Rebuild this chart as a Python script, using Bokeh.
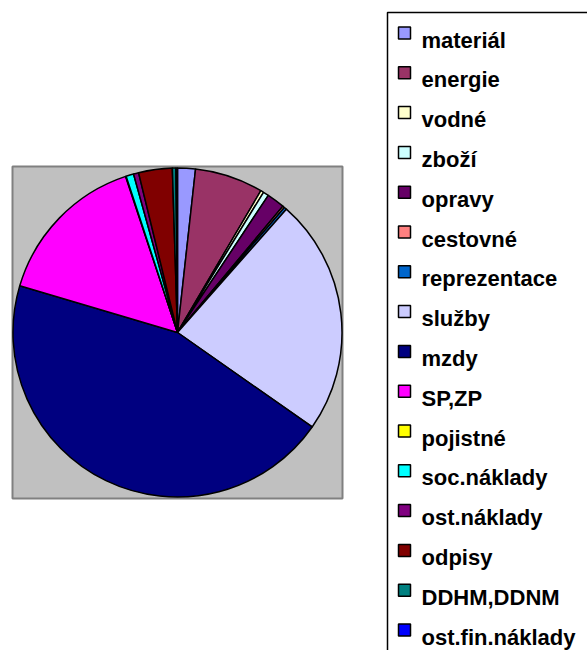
import numpy as np
from bokeh.plotting import figure
from bokeh.models import Range1d, ColumnDataSource
from bokeh.core.properties import value
from bokeh.embed import file_html
from bokeh.resources import INLINE

# ---- data ----
categories = ["materiál", "energie", "vodné", "zboží", "opravy", "cestovné",
              "reprezentace", "služby", "mzdy", "SP,ZP", "pojistné",
              "soc.náklady", "ost.náklady", "odpisy", "DDHM,DDNM",
              "ost.fin.náklady"]
shares = [1.75, 6.7, 0.3, 0.55, 1.75, 0.2, 0.25, 23.2, 44.8, 15.3, 0.05,
          0.75, 0.5, 3.3, 0.35, 0.15]
colors = ["#9999FF", "#993366", "#FFFFCC", "#CCFFFF", "#660066", "#FF8080",
          "#0066CC", "#CCCCFF", "#000080", "#FF00FF", "#FFFF00", "#00FFFF",
          "#800080", "#800000", "#008080", "#0000FF"]

W, H = 587, 650

def fx(px):
    return px

def fy(py):
    return H - py

p = figure(width=W, height=H, x_range=Range1d(0, W), y_range=Range1d(0, H),
           output_backend="svg", toolbar_location=None, min_border=0)
p.axis.visible = False
p.grid.visible = False
p.outline_line_color = None
p.background_fill_color = "white"
p.border_fill_color = "white"

# plot area (gray)
bx0, bx1, by0, by1 = 12, 342, 166, 498
p.quad(left=fx(bx0), right=fx(bx1), top=fy(by0), bottom=fy(by1),
       fill_color="#C0C0C0", line_color="#808080", line_width=2)

# pie
vals = np.array(shares, dtype=float)
frac = vals / vals.sum()
cum = np.concatenate([[0.0], np.cumsum(frac)])
start = np.pi / 2 - 2 * np.pi * cum[:-1]
end = np.pi / 2 - 2 * np.pi * cum[1:]
cx, cy, r = fx(177), fy(332), 164.5
src = ColumnDataSource(dict(start=start, end=end, color=colors,
                            x=[cx] * len(vals), y=[cy] * len(vals)))
p.wedge(x="x", y="y", radius=r, start_angle="start", end_angle="end",
        direction="clock", fill_color="color", line_color="black",
        line_width=1.5, source=src)

# legend box
p.quad(left=fx(387), right=fx(600), top=fy(12), bottom=fy(700),
       fill_color="white", line_color="black", line_width=1.5)

n = len(categories)
ys = np.array([32.5 + i * 39.8 for i in range(n)])
sw = 12
lsrc = ColumnDataSource(dict(
    l=[fx(398)] * n, r=[fx(398 + sw)] * n,
    t=list(fy(ys - sw / 2)), b=list(fy(ys + sw / 2)),
    color=colors, label=categories,
    tx=[fx(421)] * n, ty=list(fy(ys + 7))))
p.quad(left="l", right="r", top="t", bottom="b", fill_color="color",
       line_color="black", line_width=1.5, source=lsrc)
p.text(x="tx", y="ty", text="label", source=lsrc,
       text_font=value("Liberation Sans"), text_font_style="bold",
       text_font_size="22px", text_baseline="alphabetic",
       text_align="left", text_color="black")

open("out.html", "w").write(file_html(p, INLINE))
